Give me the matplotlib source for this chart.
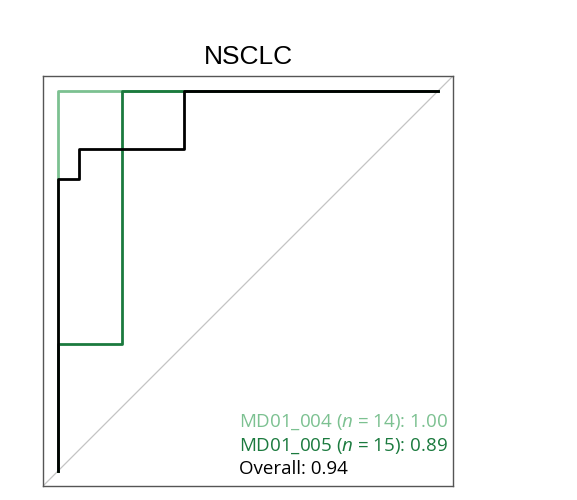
import matplotlib
matplotlib.use('Agg')
import matplotlib.pyplot as plt

plt.rcParams['font.family'] = ['Open Sans', 'DejaVu Sans']
plt.rcParams['mathtext.fontset'] = 'custom'
plt.rcParams['mathtext.rm'] = 'Open Sans'
plt.rcParams['mathtext.it'] = 'Open Sans:italic'

# ROC points
fpr_004 = [0.0, 0.0, 1.0]
tpr_004 = [0.0, 1.0, 1.0]
fpr_005 = [0.0, 0.0, 0.167, 0.167, 1.0]
tpr_005 = [0.0, 0.335, 0.335, 1.0, 1.0]
fpr_all = [0.0, 0.0, 0.055, 0.055, 0.332, 0.332, 1.0]
tpr_all = [0.0, 0.770, 0.770, 0.847, 0.847, 1.0, 1.0]

labels = ['MD01_004 ($n$ = 14): 1.00', 'MD01_005 ($n$ = 15): 0.89', 'Overall: 0.94']
colors = ['#7cc191', '#1b7a3e', '#000000']

fig = plt.figure(figsize=(5.77, 5), dpi=100)
ax = fig.add_axes([43 / 577, 14 / 500, 410 / 577, 410 / 500])

ax.plot([-0.04, 1.04], [-0.04, 1.04], color='#c4c4c4', lw=0.9)
ax.plot(fpr_004, tpr_004, color=colors[0], lw=2)
ax.plot(fpr_005, tpr_005, color=colors[1], lw=2)
ax.plot(fpr_all, tpr_all, color=colors[2], lw=2)

ax.set_xlim(-0.04, 1.04)
ax.set_ylim(-0.04, 1.04)
ax.set_xticks([])
ax.set_yticks([])
for s in ax.spines.values():
    s.set_color('#555555')
    s.set_linewidth(1)

ax.set_title('NSCLC', fontsize=19, family=['Liberation Sans', 'DejaVu Sans'], pad=9)

for i, (lab, c) in enumerate(zip(labels, colors)):
    ax.text(0.478, 0.155 - i * 0.057, lab, transform=ax.transAxes, ha='left', va='center',
            fontsize=13.5, color=c)

fig.savefig('out.png', dpi=100)
